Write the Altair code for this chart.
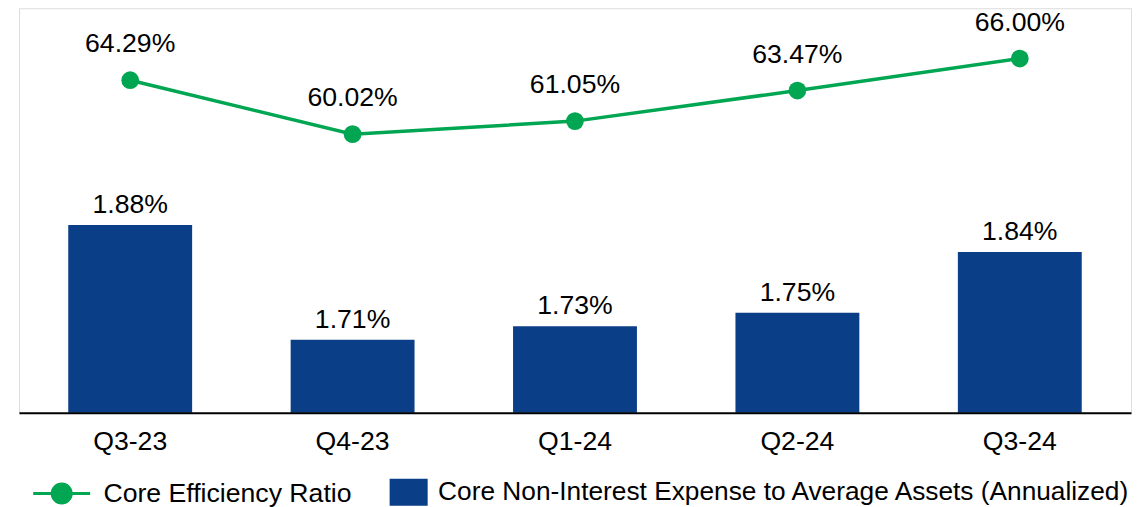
import altair as alt
import pandas as pd

quarters = ["Q3-23", "Q4-23", "Q1-24", "Q2-24", "Q3-24"]
efficiency = [64.29, 60.02, 61.05, 63.47, 66.00]
expense = [1.88, 1.71, 1.73, 1.75, 1.84]

eff_name = "Core Efficiency Ratio"
exp_name = "Core Non-Interest Expense to Average Assets (Annualized)"

GREEN = "#00a651"
BLUE = "#0a3f87"
FONT = "Liberation Sans"
FS = 26.67
LFS = 26.3

df = pd.DataFrame({
    "quarter": quarters,
    "eff": efficiency,
    "exp": expense,
    "eff_label": [f"{v:.2f}%" for v in efficiency],
    "exp_label": [f"{v:.2f}%" for v in expense],
    "eff_series": [eff_name] * len(quarters),
    "exp_series": [exp_name] * len(quarters),
})

x_enc = alt.X(
    "quarter:N",
    sort=quarters,
    scale=alt.Scale(paddingInner=0.44, paddingOuter=0.22),
    axis=alt.Axis(
        title=None, labelFontSize=FS, labelFont=FONT, labelColor="black",
        labelAngle=0, ticks=False, grid=False, domain=True,
        domainColor="black", domainWidth=2, labelPadding=16, zindex=1,
    ),
)

bar_scale = alt.Scale(domain=[1.602, 2.2007], zero=False, nice=False, clamp=True)
line_scale = alt.Scale(domain=[37.96, 69.985], zero=False, nice=False)

base = alt.Chart(df).encode(x=x_enc)

square_path = "M-1.41,-1L1.41,-1L1.41,1L-1.41,1Z"
line_path = ("M-2,0L2,0M-0.667,0A0.667,0.667,0,1,0,0.667,0"
             "A0.667,0.667,0,1,0,-0.667,0Z")

bars = base.mark_bar(size=124).encode(
    y=alt.Y("exp:Q", scale=bar_scale, axis=None),
    color=alt.Color(
        "exp_series:N",
        scale=alt.Scale(domain=[exp_name], range=[BLUE]),
        legend=alt.Legend(
            title=None, orient="none", legendX=376.5, legendY=471,
            symbolType=square_path, symbolSize=729, symbolStrokeWidth=0,
            labelOffset=16, labelFontSize=LFS, labelFont=FONT,
            labelColor="black", labelLimit=0, padding=0,
        ),
    ),
)

bar_text = base.mark_text(
    fontSize=FS, font=FONT, color="black", baseline="middle", dy=-20
).encode(
    y=alt.Y("exp:Q", scale=bar_scale, axis=None),
    text="exp_label:N",
)

line = base.mark_line(color=GREEN, strokeWidth=3.5).encode(
    y=alt.Y("eff:Q", scale=line_scale, axis=None),
)

points = base.mark_circle(size=314, opacity=1).encode(
    y=alt.Y("eff:Q", scale=line_scale, axis=None),
    color=alt.Color(
        "eff_series:N",
        scale=alt.Scale(domain=[eff_name], range=[GREEN]),
        legend=alt.Legend(
            title=None, orient="none", legendX=26.75, legendY=469.75,
            symbolType=line_path, symbolSize=812,
            symbolStrokeColor=GREEN, symbolStrokeWidth=3, symbolOpacity=1,
            labelOffset=25.75, labelFontSize=FS, labelFont=FONT,
            labelColor="black", labelLimit=0, padding=0,
        ),
    ),
)

line_text = base.mark_text(
    fontSize=FS, font=FONT, color="black", baseline="middle", dy=-36
).encode(
    y=alt.Y("eff:Q", scale=line_scale, axis=None),
    text="eff_label:N",
)

chart = alt.layer(bars, bar_text, line, points, line_text).resolve_scale(
    y="independent", color="independent"
).properties(
    width=1113,
    height=405,
    padding={"left": 11, "top": 0, "right": 0, "bottom": 0},
).configure_view(
    stroke="transparent", strokeWidth=0, fill="white"
).configure_axisY(
    domain=False, grid=False, ticks=False, labels=False
).configure_axis(grid=False).configure(font=FONT, background="white")

chart.save("out.html", embed_options={"renderer": "svg", "actions": False})
